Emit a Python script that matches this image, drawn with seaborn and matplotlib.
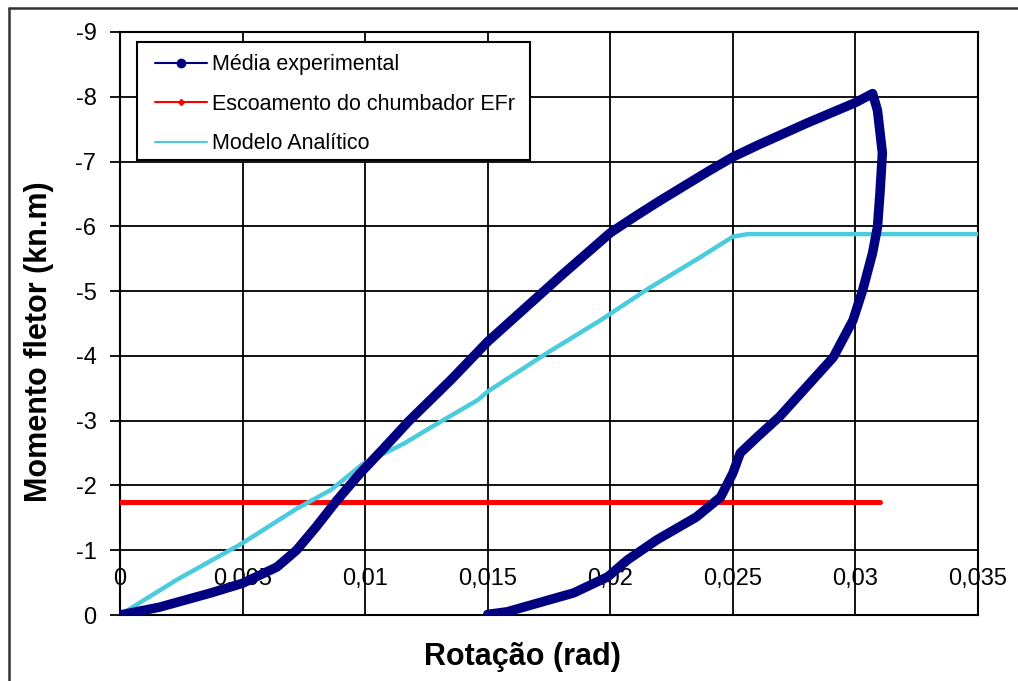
import numpy as np
import pandas as pd
import matplotlib
matplotlib.use("Agg")
import matplotlib.pyplot as plt
import seaborn as sns
from matplotlib.lines import Line2D
from matplotlib.patches import Rectangle

# Média experimental (loading branch then unloading branch)
rot_exp = [0.0, 0.0016, 0.0037, 0.0050, 0.0064, 0.0072, 0.0080, 0.00885, 0.0098, 0.0107,
           0.0118, 0.0135, 0.0150, 0.0160, 0.0170, 0.0180, 0.0190, 0.0200, 0.0210, 0.0220,
           0.0230, 0.0240, 0.0250, 0.0260, 0.0270, 0.0280, 0.0290, 0.0300, 0.0307,
           0.0309, 0.0311, 0.0310, 0.0309, 0.0307, 0.0303, 0.0299, 0.0291, 0.0280, 0.0269,
           0.0260, 0.0253, 0.0250, 0.0245, 0.0235, 0.0219, 0.0207, 0.0199, 0.0185, 0.0171,
           0.0158, 0.0150]
mom_exp = [0.0, -0.12, -0.34, -0.49, -0.74, -1.00, -1.36, -1.77, -2.19, -2.55,
           -3.00, -3.63, -4.22, -4.56, -4.90, -5.24, -5.57, -5.90, -6.15, -6.39,
           -6.62, -6.85, -7.07, -7.25, -7.42, -7.59, -7.75, -7.91, -8.05,
           -7.79, -7.13, -6.51, -5.99, -5.59, -5.02, -4.55, -3.98, -3.52, -3.06,
           -2.75, -2.50, -2.19, -1.82, -1.51, -1.16, -0.85, -0.59, -0.34, -0.19,
           -0.05, -0.01]

# Escoamento do chumbador EFr
rot_esc = [0.0, 0.0310]
mom_esc = [-1.75, -1.75]

# Modelo Analítico
rot_mod = [0.0, 0.0023, 0.0050, 0.0072, 0.0086, 0.0099, 0.0116, 0.0127, 0.0146, 0.0150,
           0.0174, 0.0196, 0.0216, 0.0237, 0.0250, 0.0256, 0.0350]
mom_mod = [0.0, -0.54, -1.11, -1.64, -1.93, -2.33, -2.65, -2.90, -3.32, -3.45,
           -4.04, -4.55, -5.05, -5.53, -5.84, -5.88, -5.88]

x_ticks = [0.0, 0.005, 0.01, 0.015, 0.02, 0.025, 0.03, 0.035]
x_labels = ["0", "0,005", "0,01", "0,015", "0,02", "0,025", "0,03", "0,035"]
y_ticks = [0, -1, -2, -3, -4, -5, -6, -7, -8, -9]

sns.set_style("white")
plt.rcParams['font.family'] = ['Liberation Sans', 'DejaVu Sans']
plt.rcParams['axes.unicode_minus'] = False
plt.rcParams['text.color'] = 'black'
plt.rcParams['axes.labelcolor'] = 'black'
plt.rcParams['xtick.color'] = 'black'
plt.rcParams['ytick.color'] = 'black'

navy = "#000080"
red = "#FF0000"
cyan = "#4BCCDD"

fig = plt.figure(figsize=(10.18, 6.81), dpi=100)
ax = fig.add_axes([120 / 1018, 1 - 615 / 681, 858 / 1018, 583 / 681])

df_exp = pd.DataFrame({"rot": rot_exp, "mom": mom_exp})
df_esc = pd.DataFrame({"rot": rot_esc, "mom": mom_esc})
df_mod = pd.DataFrame({"rot": rot_mod, "mom": mom_mod})

sns.lineplot(data=df_esc, x="rot", y="mom", sort=False, estimator=None,
             color=red, lw=3.6, ax=ax, zorder=3)
sns.lineplot(data=df_mod, x="rot", y="mom", sort=False, estimator=None,
             color=cyan, lw=3.2, ax=ax, zorder=4)
sns.lineplot(data=df_exp, x="rot", y="mom", sort=False, estimator=None,
             color=navy, lw=6.8, ax=ax, zorder=5, solid_capstyle="round",
             solid_joinstyle="round")

ax.set_xlim(0, 0.035)
ax.set_ylim(0, -9)
ax.set_xticks(x_ticks, x_labels)
ax.set_yticks(y_ticks, [str(v) for v in y_ticks])
ax.grid(True, color="black", lw=1.3)
ax.set_axisbelow(True)
for s in ax.spines.values():
    s.set_color("black")
    s.set_linewidth(1.5)

ax.tick_params(axis="x", length=0, pad=-33.5, labelsize=17)
ax.tick_params(axis="y", length=7, width=1.3, color="black", pad=10, labelsize=17,
               left=True)

ax.set_xlabel("Rotação (rad)", fontsize=22, fontweight="bold")
ax.set_ylabel("Momento fletor (kn.m)", fontsize=22, fontweight="bold")
ax.xaxis.set_label_coords(0.4685, -0.046)
ax.yaxis.set_label_coords(-0.077, 0.468)

# legend box (frame drawn separately to match the wide left padding)
ax.add_patch(Rectangle((0.0198, 0.7804), 0.4581, 0.2024, transform=ax.transAxes,
                       facecolor="white", edgecolor="black", lw=1.5, zorder=6,
                       clip_on=False))
handles = [
    Line2D([], [], color=navy, lw=1.5, marker="o", markersize=6),
    Line2D([], [], color=red, lw=1.5, marker="D", markersize=3),
    Line2D([], [], color=cyan, lw=1.5),
]
labels = ["Média experimental", "Escoamento do chumbador EFr", "Modelo Analítico"]
leg = ax.legend(handles, labels, loc="upper left", bbox_to_anchor=(0.0408, 0.962),
                fontsize=15.5, frameon=False, handlelength=2.4, handletextpad=0.25,
                labelspacing=0.86, borderpad=0, borderaxespad=0)
leg.set_zorder(7)

# outer chart frame (partially visible)
fig.add_artist(Line2D([9 / 1018, 1.0], [1 - 8 / 681, 1 - 8 / 681], color="#333333",
                      lw=1.8, transform=fig.transFigure))
fig.add_artist(Line2D([9 / 1018, 9 / 1018], [0.0, 1 - 8 / 681], color="#333333",
                      lw=1.8, transform=fig.transFigure))

fig.savefig("out.png", dpi=100)
